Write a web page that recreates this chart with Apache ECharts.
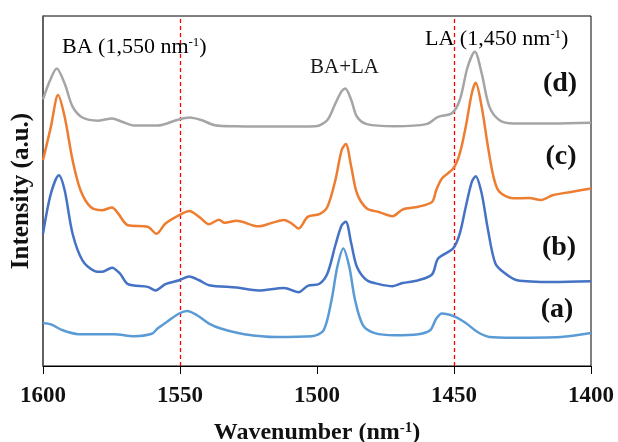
<!DOCTYPE html>
<html>
<head>
<meta charset="utf-8">
<script src="https://cdn.jsdelivr.net/npm/echarts@6/dist/echarts.min.js"></script>
<style>html,body{margin:0;padding:0;background:#fff}#c{width:618px;height:442px}</style>
</head>
<body>
<div id="c"></div>
<script>
// x tick values (wavenumber)
const xTicks = [1600, 1550, 1500, 1450, 1400];
// reference wavenumbers marked with dashed lines
const refLines = [1550, 1450];
// series labels
const seriesNames = ['(a)', '(b)', '(c)', '(d)'];

// (d) gray
const specD = [[1600,76.2],[1597.5,81.5],[1595.0,85.0],[1592.1,80.7],[1589.2,74.1],[1585.6,71.0],[1579.8,70.1],[1574.8,70.7],[1571.2,69.8],[1566.8,68.7],[1558.2,68.7],[1551.0,70.3],[1546.6,71.0],[1542.3,70.3],[1537.3,68.8],[1529.3,68.5],[1514.9,68.4],[1500.5,68.5],[1496.2,70.3],[1493.3,75.0],[1491.1,78.4],[1489.7,79.3],[1487.5,76.0],[1485.4,71.2],[1481.8,69.1],[1471.7,68.5],[1460.1,69.1],[1455.8,71.2],[1450.8,72.2],[1447.9,76.0],[1445.0,85.5],[1442.4,89.8],[1439.9,83.6],[1437.1,74.1],[1433.5,70.3],[1428.4,69.3],[1414.0,69.3],[1400,69.5]];
// (c) orange
const specC = [[1600,58.8],[1597.1,68.4],[1594.5,77.4],[1592.1,71.2],[1589.2,58.8],[1586.3,50.2],[1582.7,45.5],[1578.4,44.5],[1574.8,45.3],[1572.6,43.6],[1569.0,40.2],[1561.8,39.8],[1558.6,37.8],[1555.3,40.7],[1550.3,43.1],[1546.6,44.3],[1543.0,42.6],[1539.4,40.5],[1535.8,41.8],[1533.7,40.9],[1529.3,41.5],[1521.4,39.9],[1516.4,40.9],[1512.0,41.7],[1509.2,40.7],[1506.7,39.3],[1503.4,42.6],[1499.1,43.4],[1496.2,45.5],[1493.3,53.1],[1491.0,61.7],[1489.5,63.4],[1487.5,56.9],[1485.4,49.3],[1481.8,45.0],[1477.4,44.0],[1472.4,42.8],[1468.8,44.7],[1463.0,45.5],[1458.0,46.9],[1456.5,50.2],[1454.4,53.6],[1450.3,56.4],[1447.9,60.7],[1445.7,68.4],[1443.5,77.9],[1442.1,80.9],[1439.9,74.1],[1437.8,63.6],[1435.6,54.1],[1433.5,49.8],[1428.4,47.9],[1422.6,48.0],[1418.3,47.4],[1414.0,48.8],[1406.8,49.8],[1400,50.7]];
// (b) blue
const specB = [[1600,37.8],[1597.1,49.3],[1594.2,54.5],[1592.1,50.2],[1589.2,37.8],[1585.6,30.2],[1581.3,27.2],[1578.4,26.9],[1574.8,28.1],[1571.9,26.4],[1569.0,23.4],[1561.8,22.6],[1558.9,21.6],[1555.3,23.4],[1550.3,24.5],[1546.6,25.6],[1543.0,24.5],[1539.4,23.1],[1529.3,22.4],[1521.4,21.6],[1512.0,22.3],[1506.7,21.1],[1503.4,22.9],[1499.1,23.5],[1496.2,26.4],[1493.3,34.5],[1491.0,40.2],[1489.5,41.2],[1487.5,35.0],[1485.4,28.3],[1481.8,24.5],[1477.4,23.4],[1472.4,22.8],[1468.8,23.7],[1463.0,24.5],[1458.0,26.2],[1455.8,30.7],[1450.3,33.6],[1447.9,37.8],[1445.7,45.5],[1443.5,52.6],[1442.1,54.2],[1439.9,49.3],[1437.8,39.8],[1434.9,29.3],[1431.3,26.4],[1427.0,24.5],[1414.0,24.0],[1400,24.2]];
// (a) light blue
const specA = [[1600,12.3],[1597.1,11.9],[1592.8,10.2],[1587.0,9.1],[1574.0,9.1],[1566.8,8.5],[1560.3,9.2],[1558.2,10.7],[1553.9,13.1],[1550.3,15.0],[1547.4,15.7],[1543.8,14.5],[1539.4,12.1],[1535.1,10.7],[1526.5,9.1],[1514.9,8.3],[1501.9,8.5],[1497.6,10.2],[1494.7,18.8],[1492.6,28.3],[1490.4,33.6],[1488.2,28.3],[1486.1,18.8],[1483.2,11.6],[1478.9,9.4],[1471.7,8.8],[1463.0,9.1],[1458.7,10.2],[1456.5,13.5],[1454.4,15.0],[1450.0,14.2],[1445.7,12.3],[1441.4,9.7],[1437.1,8.3],[1428.4,8.1],[1411.1,8.3],[1400,9.4]];

const SERIF = '"Liberation Serif", "Times New Roman", serif';
const colors = ['#5B9BD5', '#4472C4', '#ED7D31', '#A5A5A5'];
const specs = [specA, specB, specC, specD];

const chart = echarts.init(document.getElementById('c'), null, {renderer: 'canvas'});

const series = specs.map((d, i) => ({
  name: seriesNames[i],
  type: 'line',
  data: d,
  showSymbol: false,
  smooth: 0.3,
  lineStyle: {color: colors[i], width: 2.5},
  itemStyle: {color: colors[i]},
  z: 3
}));
series[0].markLine = {
  silent: true,
  symbol: ['none', 'none'],
  label: {show: false},
  lineStyle: {color: '#FF0000', type: [4, 3], width: 1.3},
  data: refLines.map(v => ({xAxis: v})),
  z: 2
};

const supRich = (fs) => ({
  n: {fontSize: fs, fontFamily: SERIF, color: '#1a1a1a'},
  s: {fontSize: Math.round(fs * 0.6), fontFamily: SERIF, color: '#1a1a1a', verticalAlign: 'top'}
});

const labelPos = [[557, 310], [559, 248], [561, 157], [560, 84]];

chart.setOption({
  animation: false,
  grid: {left: 43, right: 27, top: 16, bottom: 76, show: true, borderColor: '#000', borderWidth: 1,
    containLabel: false, outerBoundsMode: 'none'},
  xAxis: {
    type: 'value', inverse: true, min: 1400, max: 1600, interval: 50,
    axisLine: {show: true, lineStyle: {color: '#000', width: 1}},
    axisTick: {show: true, inside: false, length: 8, lineStyle: {color: '#000'}},
    axisLabel: {show: true, margin: 19, fontFamily: SERIF, fontWeight: 'bold', fontSize: 23, color: '#111',
      formatter: v => String(v)},
    splitLine: {show: false},
    name: '{b|Wavenumber (nm}{s|-1}{b|)}',
    nameLocation: 'middle', nameGap: 55,
    nameTextStyle: {
      rich: {
        b: {fontFamily: SERIF, fontWeight: 'bold', fontSize: 24, color: '#111'},
        s: {fontFamily: SERIF, fontWeight: 'bold', fontSize: 15, color: '#111', verticalAlign: 'top'}
      }
    }
  },
  yAxis: {
    type: 'value', min: 0, max: 100,
    axisLine: {show: true, lineStyle: {color: '#595959', width: 1.5}},
    axisTick: {show: false}, axisLabel: {show: false}, splitLine: {show: false},
    name: 'Intensity (a.u.)', nameLocation: 'middle', nameGap: 9, nameRotate: 90,
    nameTextStyle: {fontFamily: SERIF, fontWeight: 'bold', fontSize: 25, color: '#111'}
  },
  series: series,
  graphic: [
    {type: 'text', left: 62, top: 36, z: 10, style: {text: '{n|BA (1,550 nm}{s|-1}{n|)}', rich: supRich(22)}},
    {type: 'text', left: 310, top: 57, z: 10, style: {text: 'BA+LA', fontSize: 21, fontFamily: SERIF, fill: '#1a1a1a'}},
    {type: 'text', left: 425, top: 28, z: 10, style: {text: '{n|LA (1,450 nm}{s|-1}{n|)}', rich: supRich(22)}}
  ].concat(seriesNames.map((t, i) => ({
    type: 'text', x: labelPos[i][0], y: labelPos[i][1], z: 10,
    style: {text: t, fontSize: 28, fontWeight: 'bold', fontFamily: SERIF, fill: '#111', align: 'center', verticalAlign: 'middle'}
  })))
});
</script>
</body>
</html>
